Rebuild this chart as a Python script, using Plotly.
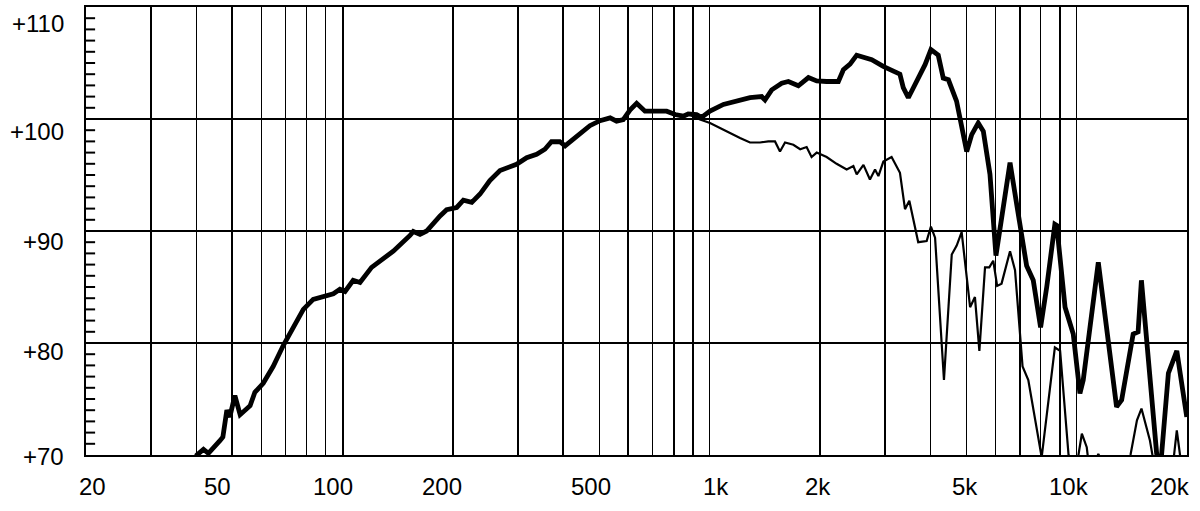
import math
import plotly.graph_objects as go

# ---------------- data ----------------
thick_freq = [39, 40.1, 41.8, 43.1, 46.4, 47.2, 48.4, 49.3, 50.9, 52.6, 56.0, 57.7, 60.8, 64.7,
              69.0, 73.4, 78.2, 83.2, 88.7, 94.4, 98.4, 101.6, 106.9, 111.6, 120, 126.5, 137.5,
              152.7, 155.9, 162.6, 169.5, 184.4, 192.2, 204.7, 213.4, 225, 237, 252, 268.6, 298,
              317.5, 338, 356, 371, 391, 404, 425, 448, 472, 503, 536, 558, 582, 607, 633, 667,
              718, 764, 806, 848, 875, 922, 951, 1003, 1091, 1186, 1289, 1387, 1416, 1477, 1573,
              1640, 1746, 1860, 1959, 2085, 2244, 2316, 2415, 2518, 2627, 2767, 2974, 3302, 3372,
              3481, 3746, 3866, 4011, 4200, 4334, 4476, 4711, 5021, 5181, 5397, 5573, 5810, 6032,
              6589, 6900, 7085, 7312, 7623, 7982, 8295, 8730, 8832, 9306, 9797, 10216, 10431,
              11464, 12857, 13271, 14265, 14716, 15025, 15509, 16530, 16900, 17795, 18760, 19970]
thick_db = [69.0, 70.0, 70.5, 70.15, 71.3, 71.6, 74.0, 73.4, 75.3, 73.6, 74.4, 75.6, 76.4, 77.9,
            79.8, 81.4, 83.0, 83.9, 84.1, 84.4, 84.8, 84.6, 85.6, 85.4, 86.75, 87.35, 88.2,
            89.6, 89.96, 89.7, 90.0, 91.35, 91.9, 92.1, 92.75, 92.55, 93.3, 94.5, 95.4, 95.95,
            96.55, 96.85, 97.3, 97.97, 97.97, 97.6, 98.2, 98.9, 99.4, 99.85, 100.1, 99.8, 99.95,
            100.8, 101.4, 100.7, 100.7, 100.7, 100.4, 100.25, 100.45, 100.4, 100.15, 100.7,
            101.3, 101.65, 101.9, 102.0, 101.7, 102.6, 103.2, 103.35, 102.97, 103.7, 103.4,
            103.35, 103.35, 104.4, 104.9, 105.7, 105.5, 105.3, 104.7, 104.0, 102.8, 101.9,
            103.96, 104.85, 106.2, 105.7, 103.65, 103.5, 101.6, 97.1, 98.6, 99.65, 98.9, 95.06,
            87.8, 96.1, 92.0, 89.4, 86.9, 85.6, 81.4, 85.0, 90.6, 90.5, 83.2, 80.8, 75.5, 76.7,
            87.2, 74.3, 74.9, 80.8, 81.0, 85.6, 80.8, 70.15, 68.5, 77.3, 79.3, 73.4]

thin_freq = [875, 942, 1003, 1068, 1138, 1211, 1289, 1373, 1446, 1508, 1556, 1606, 1692, 1766,
             1839, 1897, 1959, 2085, 2220, 2364, 2466, 2518, 2627, 2736, 2825, 2885, 2976, 3134,
             3303, 3409, 3503, 3704, 3905, 4011, 4117, 4353, 4571, 4715, 4864, 5129, 5287, 5436,
             5632, 5786, 5930, 6077, 6248, 6589, 6799, 7128, 7390, 8036, 8730, 9022, 9512, 9800,
             10122, 10340, 10662, 10900, 11300, 11464, 11700, 13500, 14030, 14610, 15030, 15850,
             16100, 16500, 18000, 18440, 18760, 19130, 19500]
thin_db = [100.45, 99.95, 99.65, 99.2, 98.7, 98.3, 97.9, 97.9, 98.0, 98.0, 97.1, 97.9, 97.7, 97.3,
           97.5, 96.6, 97.0, 96.6, 96.0, 95.5, 95.8, 95.06, 95.9, 94.6, 95.5, 94.9, 96.2, 96.6,
           95.2, 91.95, 92.7, 89.0, 89.1, 90.4, 89.4, 76.7, 87.9, 88.7, 89.9, 83.2, 84.1, 79.3,
           86.75, 86.75, 87.35, 85.1, 85.3, 88.2, 86.5, 77.9, 76.7, 69.8, 79.6, 79.3, 70.0, 67.0,
           70.0, 71.9, 70.7, 68.0, 69.5, 70.1, 69.5, 68.0, 70.0, 73.1, 74.15, 71.3,
           70.0, 68.0, 68.0, 70.0, 72.2, 70.0, 68.0]

x_labels = ["20", "50", "100", "200", "500", "1k", "2k", "5k", "10k", "20k"]
y_labels = ["+110", "+100", "+90", "+80", "+70"]

grid_heavy = [30, 50, 100, 200, 300, 400, 600, 800, 900, 2000, 3000, 7000, 9000]
grid_light = [40, 60, 70, 80, 90, 500, 700, 1000, 4000, 5000, 6000, 8000, 10000]

X_MIN, X_MAX = 20, 20000
Y_MIN, Y_MAX = 70, 110
y_minor_ticks = [v for v in range(Y_MIN + 1, Y_MAX) if v % 10 != 0]

# ---------------- figure ----------------
fig = go.Figure()
fig.add_trace(go.Scatter(x=thin_freq, y=thin_db, mode="lines",
                         line=dict(color="black", width=2.2), hoverinfo="skip"))
fig.add_trace(go.Scatter(x=thick_freq, y=thick_db, mode="lines",
                         line=dict(color="black", width=4.8), hoverinfo="skip"))
# inside ticks on the left axis (half of each dash is clipped by the plot edge)
fig.add_trace(go.Scatter(x=[X_MIN] * len(y_minor_ticks), y=y_minor_ticks, mode="markers",
                         marker=dict(symbol="line-ew", size=13, color="black",
                                     line=dict(color="black", width=2)),
                         hoverinfo="skip", cliponaxis=True))

L, R, T, B = 86, 13, 5, 56
W, H = 1200, 511
pw = W - L - R
ph = H - T - B

fig.update_layout(
    width=W, height=H,
    margin=dict(l=L, r=R, t=T, b=B, pad=0),
    paper_bgcolor="white", plot_bgcolor="white",
    showlegend=False,
    xaxis=dict(type="log", range=[math.log10(X_MIN), math.log10(X_MAX)],
               tickmode="array", tickvals=grid_heavy, showticklabels=False, ticks="",
               showgrid=True, gridcolor="black", gridwidth=2,
               minor=dict(tickmode="array", tickvals=grid_light, showgrid=True,
                          gridcolor="black", gridwidth=1.2, ticks=""),
               showline=True, linecolor="black", linewidth=1.5, mirror=True,
               zeroline=False),
    yaxis=dict(range=[Y_MIN, Y_MAX], tickmode="linear", tick0=Y_MIN, dtick=10,
               showticklabels=False, ticks="",
               showgrid=True, gridcolor="black", gridwidth=1.5,
               showline=True, linecolor="black", linewidth=1.5, mirror=True,
               zeroline=False),
)

font = dict(family="Liberation Sans, Arial, sans-serif", size=24, color="black")
x_label_px = [92, 217, 333, 442, 591, 716, 818, 965, 1069, 1170]
for txt, px in zip(x_labels, x_label_px):
    fig.add_annotation(text=txt, xref="paper", yref="paper",
                       x=(px - L) / pw, y=-32 / ph, xanchor="center", yanchor="middle",
                       showarrow=False, font=font)
y_label_py = [22, 130, 241, 351, 457]
for txt, py in zip(y_labels, y_label_py):
    fig.add_annotation(text=txt, xref="paper", yref="paper",
                       x=(66 - L) / pw, y=(H - B - py) / ph, xanchor="right", yanchor="middle",
                       showarrow=False, font=font)

fig.write_html("out.html", config={"displayModeBar": False},
               post_script="document.body.style.margin='0';")
